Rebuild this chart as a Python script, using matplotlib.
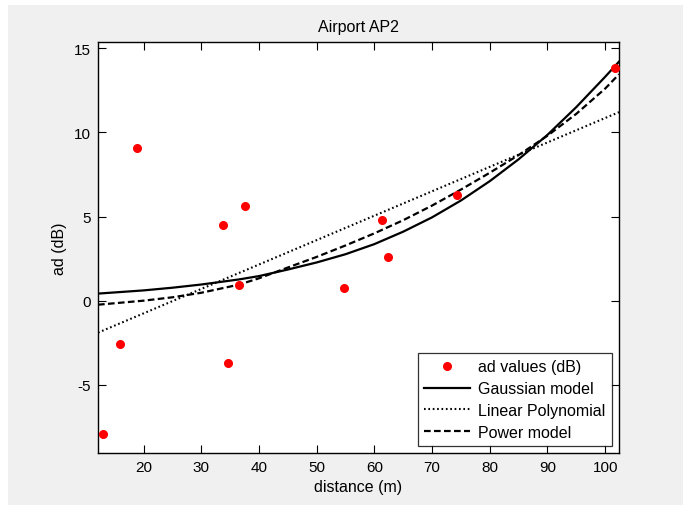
import matplotlib
matplotlib.use("Agg")
import matplotlib.pyplot as plt
from matplotlib.patches import Rectangle

plt.rcParams['font.family'] = ['Liberation Sans', 'DejaVu Sans']
plt.rcParams['axes.unicode_minus'] = False

# measured points
distance = [12.9, 15.9, 18.8, 33.8, 34.7, 36.6, 37.6, 54.7, 61.4, 62.4, 74.3, 101.7]
ad_values = [-7.91, -2.57, 9.05, 4.48, -3.72, 0.91, 5.61, 0.77, 4.78, 2.62, 6.26, 13.81]

# fitted curves
curve_x = [12.1, 20, 25, 30, 36.5, 40, 45, 50, 55, 60, 65, 70, 75, 80, 85, 90, 95, 100, 102.4]
gaussian = [0.42, 0.61, 0.77, 0.96, 1.26, 1.46, 1.85, 2.27, 2.76, 3.36, 4.1, 4.95, 5.95,
            7.1, 8.4, 9.85, 11.5, 13.3, 14.2]
power = [-0.24, 0.0, 0.2, 0.47, 0.95, 1.33, 1.97, 2.6, 3.28, 4.0, 4.78, 5.65, 6.6,
         7.6, 8.65, 9.8, 11.1, 12.6, 13.45]
linear_x = [12.1, 102.4]
linear = [-1.9, 11.2]

x_ticks = [20, 30, 40, 50, 60, 70, 80, 90, 100]
y_ticks = [-5, 0, 5, 10, 15]

W, H = 689, 506
fig = plt.figure(figsize=(W / 100, H / 100), dpi=100, facecolor='white')
fig.patches.append(Rectangle((8 / W, 0), (683 - 8) / W, (506 - 6) / H,
                             transform=fig.transFigure, facecolor='#f0f0f0',
                             edgecolor='none', zorder=-10))

ax = fig.add_axes([98 / W, (H - 454) / H, (619 - 98) / W, (454 - 43.3) / H])
ax.set_facecolor('white')

ax.plot(distance, ad_values, 'o', color='red', markersize=5.5, label='ad values (dB)', zorder=3)
ax.plot(curve_x, gaussian, '-', color='black', lw=1.6, label='Gaussian model')
ax.plot(linear_x, linear, color='black', lw=1.5, linestyle=(0, (0.8, 1.3)), label='Linear Polynomial')
ax.plot(curve_x, power, color='black', lw=1.6, linestyle=(0, (3, 1.5)), label='Power model')

ax.set_xlim(12.1, 102.4)
ax.set_ylim(-9.05, 15.35)
ax.set_xticks(x_ticks)
ax.set_yticks(y_ticks)
ax.tick_params(direction='in', length=5.5, width=0.8, top=True, right=True, labelsize=11,
               colors='black', pad=5)
for s in ax.spines.values():
    s.set_linewidth(1.0)

ax.set_title('Airport AP2', fontsize=11.5, pad=8)
ax.set_xlabel('distance (m)', fontsize=11.5, labelpad=4)
ax.set_ylabel('ad (dB)', fontsize=11.5, labelpad=5)

leg = ax.legend(loc='lower right', bbox_to_anchor=(1 - 7 / 521, 7 / 410.7), borderaxespad=0,
                fontsize=11.5, frameon=True, fancybox=False, edgecolor='black',
                handlelength=2.9, handletextpad=0.5, labelspacing=0.42, borderpad=0.4)
leg.get_frame().set_linewidth(0.9)

fig.savefig('out.png', dpi=100, facecolor=fig.get_facecolor())
